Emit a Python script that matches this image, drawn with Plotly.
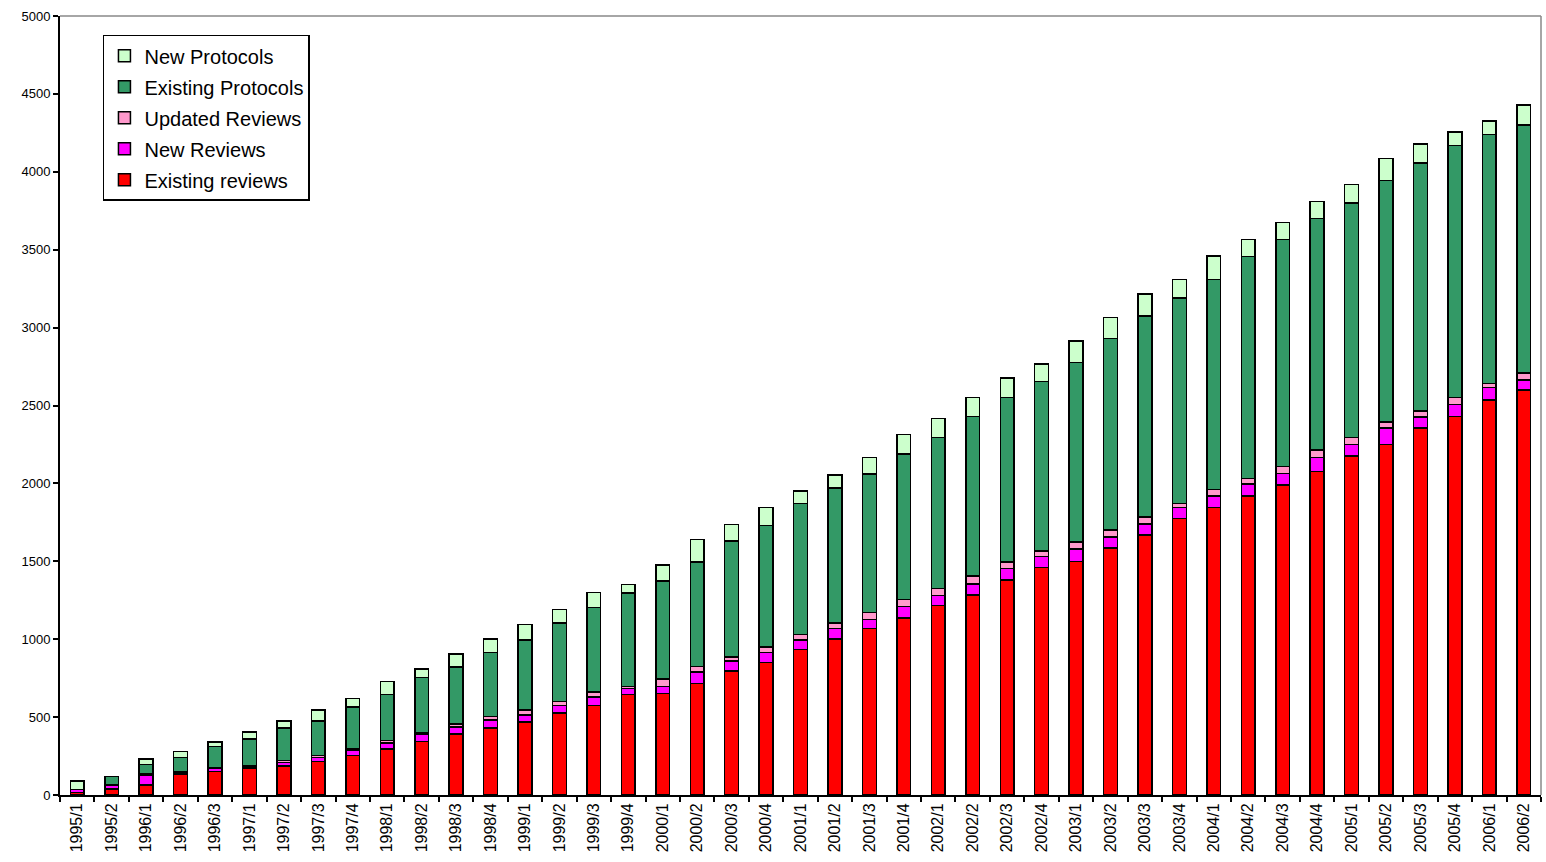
import plotly.graph_objects as go

categories = ["1995/1", "1995/2", "1996/1", "1996/2", "1996/3", "1997/1", "1997/2", "1997/3",
              "1997/4", "1998/1", "1998/2", "1998/3", "1998/4", "1999/1", "1999/2", "1999/3",
              "1999/4", "2000/1", "2000/2", "2000/3", "2000/4", "2001/1", "2001/2", "2001/3",
              "2001/4", "2002/1", "2002/2", "2002/3", "2002/4", "2003/1", "2003/2", "2003/3",
              "2003/4", "2004/1", "2004/2", "2004/3", "2004/4", "2005/1", "2005/2", "2005/3",
              "2005/4", "2006/1", "2006/2"]

existing_reviews = [15, 40, 65, 135, 150, 170, 185, 215, 255, 295, 345, 390, 430, 470, 525, 575,
                    645, 650, 715, 795, 850, 935, 1000, 1070, 1135, 1215, 1285, 1380, 1460, 1500,
                    1585, 1670, 1775, 1845, 1920, 1990, 2075, 2175, 2250, 2355, 2430, 2535, 2600]
new_reviews = [20, 25, 60, 10, 20, 10, 25, 25, 35, 40, 45, 45, 50, 45, 50, 55, 40, 45, 75, 65, 65,
               60, 70, 55, 75, 65, 70, 75, 70, 80, 70, 70, 70, 75, 75, 75, 90, 75, 105, 70, 75, 80, 65]
updated_reviews = [0, 0, 10, 5, 5, 5, 10, 15, 10, 15, 10, 20, 25, 30, 25, 30, 10, 50, 35, 25, 35,
                   35, 35, 45, 45, 45, 50, 40, 35, 45, 45, 45, 25, 40, 35, 45, 50, 45, 40, 40, 45, 25, 45]
existing_protocols = [0, 55, 60, 90, 135, 175, 210, 220, 265, 295, 355, 365, 410, 450, 505, 545,
                      600, 630, 670, 745, 780, 840, 865, 890, 935, 970, 1025, 1055, 1090, 1150,
                      1230, 1290, 1320, 1350, 1425, 1455, 1485, 1505, 1550, 1590, 1620, 1600, 1590]
new_protocols = [55, 0, 35, 40, 30, 45, 45, 70, 55, 85, 55, 85, 85, 100, 85, 95, 55, 100, 145, 105,
                 115, 80, 85, 105, 125, 120, 120, 125, 110, 140, 135, 140, 120, 150, 110, 110, 110,
                 120, 140, 125, 85, 85, 130]

series_names = ["Existing reviews", "New Reviews", "Updated Reviews", "Existing Protocols", "New Protocols"]
series_values = [existing_reviews, new_reviews, updated_reviews, existing_protocols, new_protocols]
series_colors = ["#FF0000", "#FF00FF", "#FF99CC", "#339966", "#CCFFCC"]

fig = go.Figure()
n = len(series_names)
for i, (name, vals, col) in enumerate(zip(series_names, series_values, series_colors)):
    fig.add_trace(go.Bar(
        x=categories, y=vals, name=name, legendgroup=name, legendrank=n - i,
        marker=dict(color=col, line=dict(color="black", width=1.5)),
    ))

fig.update_layout(
    template="none",
    barmode="stack",
    bargap=0.6,
    width=1546, height=862,
    margin=dict(l=60, r=5, t=16, b=67),
    plot_bgcolor="white", paper_bgcolor="white",
    font=dict(family="Liberation Sans, Arial, sans-serif", color="black"),
    showlegend=True,
    legend=dict(
        x=0.029, y=0.976, xanchor="left", yanchor="top",
        bordercolor="black", borderwidth=1.5, bgcolor="white",
        font=dict(size=20, color="black"),
        traceorder="grouped", tracegroupgap=2,
    ),
    shapes=[
        dict(type="line", xref="paper", yref="paper", x0=0, x1=1, y0=1, y1=1,
             line=dict(color="#888888", width=1.5), layer="below"),
        dict(type="line", xref="paper", yref="paper", x0=1, x1=1, y0=0, y1=1,
             line=dict(color="#888888", width=1.5), layer="below"),
    ],
)
fig.update_yaxes(
    range=[0, 5000], dtick=500, tickformat="d",
    showline=True, linecolor="black", linewidth=2,
    ticks="outside", ticklen=5, tickcolor="black", tickwidth=1.5,
    showgrid=False, zeroline=False, tickfont=dict(size=13),
)
fig.update_xaxes(
    type="category", tickangle=-90,
    showline=True, linecolor="black", linewidth=2,
    ticks="outside", tickson="boundaries", ticklen=5, tickcolor="black", tickwidth=1.5,
    showgrid=False, tickfont=dict(size=16),
)

fig.write_html("out.html", config={"displayModeBar": False},
               post_script="document.body.style.margin='0';")
